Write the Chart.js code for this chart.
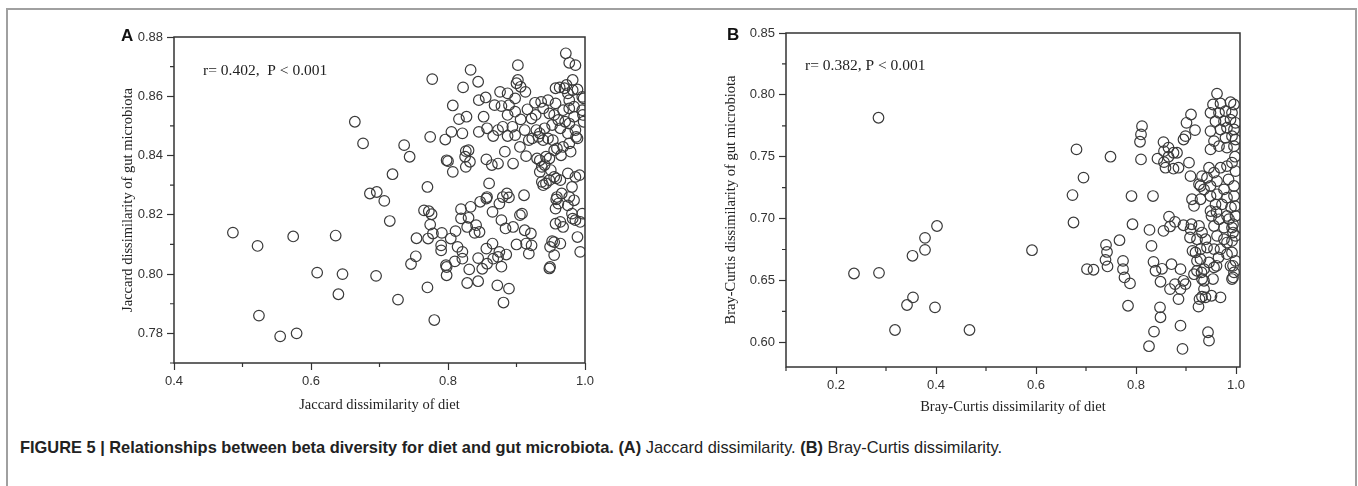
<!DOCTYPE html>
<html><head><meta charset="utf-8">
<script src="https://cdn.jsdelivr.net/npm/chart.js@4.4.1/dist/chart.umd.min.js"></script>
<style>
html,body{margin:0;padding:0;background:#fff;}
body{width:1358px;height:486px;position:relative;overflow:hidden;}
#frame{position:absolute;left:6px;top:8px;width:1347px;height:520px;border:2px solid #a0a0a0;border-bottom:none;}
canvas{position:absolute;top:0;}
#cA{left:0;} #cB{left:680px;}
#caption{position:absolute;left:20px;top:438px;font-family:"Liberation Sans",Arial,sans-serif;font-size:16.4px;color:#222;white-space:nowrap;}
</style></head>
<body>
<div id="frame"></div>
<canvas id="cA" width="660" height="430"></canvas>
<canvas id="cB" width="678" height="430"></canvas>
<div id="caption"><b>FIGURE 5 | Relationships between beta diversity for diet and gut microbiota. (A)</b> Jaccard dissimilarity. <b>(B)</b> Bray-Curtis dissimilarity.</div>
<script>
const jaccardDiet = [
0.486,0.522,0.524,0.555,0.574,0.579,0.609,0.636,0.640,0.646,
0.664,0.676,0.686,0.696,0.695,0.707,0.715,0.719,0.727,0.736,
0.744,0.746,0.753,0.754,0.765,0.772,0.776,0.770,0.774,0.777,
0.774,0.770,0.780,0.771,0.778,0.791,0.790,0.790,0.797,0.798,
0.798,0.796,0.798,0.800,0.804,0.805,0.807,0.807,0.811,0.810,
0.814,0.816,0.819,0.819,0.821,0.821,0.821,0.822,0.826,0.825,
0.826,0.827,0.828,0.828,0.830,0.830,0.831,0.832,0.833,0.833,
0.839,0.841,0.844,0.844,0.844,0.845,0.845,0.846,0.847,0.850,
0.852,0.855,0.856,0.856,0.856,0.857,0.857,0.860,0.857,0.864,
0.865,0.865,0.866,0.866,0.868,0.873,0.872,0.873,0.873,0.875,
0.875,0.876,0.878,0.878,0.878,0.880,0.880,0.881,0.883,0.884,
0.885,0.886,0.887,0.887,0.887,0.889,0.889,0.889,0.894,0.895,
0.895,0.898,0.898,0.898,0.900,0.900,0.902,0.902,0.905,0.905,
0.906,0.906,0.908,0.911,0.912,0.912,0.913,0.914,0.914,0.916,
0.918,0.918,0.921,0.922,0.922,0.923,0.927,0.928,0.929,0.930,
0.932,0.934,0.934,0.934,0.936,0.937,0.937,0.939,0.939,0.939,
0.941,0.941,0.943,0.943,0.946,0.946,0.948,0.948,0.948,0.948,
0.949,0.949,0.950,0.952,0.952,0.953,0.955,0.955,0.955,0.955,
0.957,0.957,0.957,0.957,0.958,0.958,0.959,0.959,0.961,0.961,
0.963,0.964,0.964,0.964,0.964,0.965,0.966,0.968,0.968,0.968,
0.970,0.971,0.972,0.973,0.975,0.975,0.975,0.975,0.977,0.977,
0.977,0.977,0.977,0.977,0.979,0.981,0.981,0.982,0.982,0.982,
0.984,0.984,0.984,0.986,0.986,0.986,0.986,0.987,0.989,0.989,
0.989,0.992,0.993,0.993,0.996,0.996,0.996,0.997,0.998,0.998,0.955];
const jaccardGut = [
0.814,0.8095,0.786,0.779,0.8127,0.780,0.8005,0.813,0.7932,0.800,
0.8514,0.8441,0.8272,0.8277,0.7994,0.8247,0.8179,0.8337,0.7914,0.8435,
0.8396,0.8034,0.806,0.8121,0.8215,0.8212,0.8202,0.8294,0.8463,0.8658,
0.8167,0.7955,0.7845,0.812,0.8137,0.8139,0.8097,0.808,0.803,0.7996,
0.8024,0.8454,0.8384,0.8381,0.812,0.848,0.8345,0.8569,0.8145,0.8043,
0.8092,0.8523,0.8219,0.8188,0.8075,0.8052,0.8475,0.863,0.8415,0.8396,
0.8362,0.8531,0.8159,0.797,0.8418,0.819,0.8016,0.8379,0.8689,0.8227,
0.8139,0.8165,0.8649,0.8054,0.7976,0.8587,0.848,0.8142,0.8244,0.8018,
0.8531,0.8596,0.8255,0.8387,0.8086,0.8035,0.8492,0.8306,0.826,0.8368,
0.8103,0.821,0.8466,0.8052,0.857,0.8373,0.7962,0.8058,0.8486,0.8075,
0.8238,0.8615,0.8182,0.8025,0.8567,0.8497,0.826,0.7904,0.8413,0.8154,
0.8066,0.8272,0.861,0.8537,0.8466,0.8259,0.857,0.7951,0.8497,0.8159,
0.8373,0.8593,0.8548,0.8469,0.810,0.8644,0.8705,0.8655,0.8199,0.8429,
0.8632,0.8522,0.8204,0.8266,0.8148,0.8486,0.8615,0.8103,0.8398,0.8556,
0.8069,0.8452,0.8137,0.8097,0.8525,0.8458,0.8578,0.8537,0.8486,0.839,
0.8463,0.8384,0.8475,0.8345,0.8581,0.8362,0.8311,0.8559,0.830,0.8452,
0.8492,0.8368,0.8396,0.8306,0.8587,0.8458,0.8542,0.839,0.8317,0.8019,
0.8092,0.8024,0.8351,0.8503,0.8111,0.8452,0.8537,0.8418,0.8328,0.8064,
0.8576,0.8627,0.8221,0.817,0.8323,0.8252,0.8424,0.826,0.852,0.8238,
0.863,0.8492,0.8317,0.8176,0.8103,0.8401,0.8272,0.8159,0.8553,0.8429,
0.8627,0.8514,0.8745,0.8638,0.861,0.8475,0.834,0.8232,0.8713,0.8587,
0.8559,0.8508,0.8441,0.826,0.8413,0.8294,0.8204,0.8655,0.8621,0.8187,
0.8531,0.8565,0.8249,0.8705,0.8486,0.8328,0.8182,0.8463,0.8623,0.8458,
0.8125,0.8334,0.8176,0.8075,0.8553,0.8598,0.8204,0.8537,0.8514,0.8593,0.8108];

const brayDiet = [
0.236,0.285,0.286,0.318,0.342,0.353,0.354,0.378,0.378,0.398,
0.402,0.467,0.592,0.673,0.675,0.681,0.695,0.702,0.715,0.740,
0.742,0.739,0.743,0.749,0.767,0.774,0.774,0.777,0.788,0.784,
0.791,0.793,0.808,0.810,0.812,0.810,0.826,0.827,0.831,0.834,
0.835,0.839,0.836,0.843,0.849,0.848,0.849,0.852,0.855,0.855,
0.856,0.856,0.859,0.865,0.865,0.868,0.868,0.866,0.871,0.875,
0.875,0.878,0.878,0.882,0.885,0.885,0.889,0.889,0.889,0.893,
0.895,0.895,0.895,0.899,0.899,0.901,0.906,0.908,0.909,0.909,
0.910,0.911,0.912,0.913,0.916,0.916,0.918,0.919,0.922,0.922,
0.922,0.925,0.926,0.926,0.927,0.929,0.929,0.929,0.929,0.931,
0.932,0.932,0.932,0.932,0.936,0.936,0.936,0.936,0.939,0.939,
0.942,0.942,0.944,0.946,0.946,0.946,0.949,0.949,0.949,0.949,
0.949,0.949,0.951,0.951,0.954,0.954,0.956,0.956,0.956,0.956,
0.956,0.959,0.959,0.961,0.961,0.962,0.962,0.962,0.962,0.965,
0.966,0.966,0.966,0.969,0.969,0.969,0.969,0.969,0.972,0.976,
0.976,0.976,0.976,0.979,0.979,0.982,0.982,0.982,0.982,0.982,
0.982,0.982,0.985,0.986,0.989,0.989,0.989,0.990,0.992,0.992,
0.992,0.992,0.992,0.992,0.992,0.994,0.994,0.994,0.994,0.996,
0.996,0.996,0.996,0.996,0.996,0.999,0.999,0.999,0.999,0.999,
0.999,0.998,0.998];
const brayGut = [
0.6556,0.7815,0.6561,0.6099,0.6301,0.6699,0.6363,0.6844,0.6747,0.6282,
0.694,0.6099,0.6744,0.719,0.6968,0.7559,0.7331,0.6591,0.6586,0.6787,
0.673,0.6666,0.6613,0.75,0.6825,0.6658,0.6591,0.6524,0.6476,0.6295,
0.7182,0.6954,0.7621,0.768,0.7747,0.7478,0.5968,0.6908,0.6779,0.7182,
0.665,0.6578,0.6086,0.7484,0.6489,0.6282,0.6202,0.6594,0.69,0.7618,
0.7545,0.7456,0.7411,0.7573,0.75,0.6936,0.643,0.7016,0.6631,0.7532,
0.7403,0.6973,0.647,0.7532,0.7411,0.6349,0.6591,0.643,0.6134,0.5946,
0.6946,0.7639,0.6497,0.647,0.7666,0.7774,0.7452,0.6847,0.6914,0.7343,
0.7841,0.6954,0.7156,0.6739,0.7102,0.655,0.7715,0.6726,0.6658,0.6833,
0.6578,0.6288,0.7277,0.694,0.6349,0.7263,0.6753,0.6672,0.7156,0.6565,
0.6887,0.7343,0.6511,0.6368,0.7236,0.6591,0.643,0.6497,0.6833,0.6363,
0.733,0.6766,0.6081,0.7411,0.6645,0.6013,0.7855,0.7707,0.7559,0.7263,
0.7182,0.7061,0.7021,0.6376,0.7922,0.6511,0.7626,0.7371,0.694,0.6753,
0.6605,0.7787,0.7115,0.7053,0.6618,0.801,0.7303,0.7196,0.686,0.6685,
0.7855,0.7585,0.6994,0.793,0.772,0.7411,0.6753,0.6363,0.7115,0.7787,
0.7236,0.6927,0.6833,0.7868,0.7653,0.7734,0.7573,0.7424,0.7169,0.7021,
0.6806,0.6712,0.7317,0.6995,0.794,0.78,0.6618,0.709,0.7855,0.7666,
0.7452,0.6927,0.6819,0.6726,0.6511,0.6618,0.6524,0.6887,0.6954,0.7922,
0.772,0.7585,0.7263,0.7182,0.6565,0.7774,0.7639,0.7384,0.7021,0.686,
0.6658,0.75,0.71];

const jaccardXTicks = [0.4, 0.6, 0.8, 1.0];
const jaccardXLabels = ['0.4', '0.6', '0.8', '1.0'];
const jaccardXMinor = [0.5, 0.7, 0.9];
const jaccardYTicks = [0.78, 0.80, 0.82, 0.84, 0.86, 0.88];
const jaccardYLabels = ['0.78', '0.80', '0.82', '0.84', '0.86', '0.88'];
const jaccardYMinor = [0.77, 0.79, 0.81, 0.83, 0.85, 0.87];
const brayXTicks = [0.2, 0.4, 0.6, 0.8, 1.0];
const brayXLabels = ['0.2', '0.4', '0.6', '0.8', '1.0'];
const brayXMinor = [0.1, 0.3, 0.5, 0.7, 0.9];
const brayYTicks = [0.60, 0.65, 0.70, 0.75, 0.80, 0.85];
const brayYLabels = ['0.60', '0.65', '0.70', '0.75', '0.80', '0.85'];
const brayYMinor = [0.625, 0.675, 0.725, 0.775, 0.825];

const SANS = '"Liberation Sans", Arial, sans-serif';
const SERIF = '"Liberation Serif", "Times New Roman", serif';
const INK = '#333';

const boxPlugin = {
  id: 'box',
  afterDatasetsDraw(chart, args, o) {
    const {ctx, chartArea: a} = chart;
    const x = chart.scales.x, y = chart.scales.y;
    ctx.save();
    ctx.strokeStyle = INK;
    ctx.lineWidth = 1.5;
    ctx.strokeRect(a.left, a.top, a.right - a.left, a.bottom - a.top);
    ctx.lineWidth = 1.2;
    ctx.beginPath();
    o.xMinor.forEach(v => { const p = x.getPixelForValue(v); ctx.moveTo(p, a.bottom); ctx.lineTo(p, a.bottom + 4); });
    o.yMinor.forEach(v => { const p = y.getPixelForValue(v); ctx.moveTo(a.left, p); ctx.lineTo(a.left - 4, p); });
    ctx.stroke();
    ctx.fillStyle = '#222';
    ctx.font = '15.5px ' + SERIF;
    ctx.textAlign = 'left';
    ctx.textBaseline = 'middle';
    ctx.fillText(o.note, a.left + o.noteDx, a.top + o.noteDy);
    ctx.font = 'bold 17px ' + SANS;
    ctx.textBaseline = 'alphabetic';
    ctx.fillStyle = '#111';
    ctx.fillText(o.letter, o.letterX, o.letterY);
    ctx.restore();
  }
};

function makeChart(id, xs, ys, c) {
  const pts = xs.map((v, i) => ({x: v, y: ys[i]}));
  return new Chart(document.getElementById(id), {
    type: 'scatter',
    data: {datasets: [{data: pts, pointRadius: 5.3, pointHoverRadius: 5.3, borderWidth: 1.2,
      borderColor: '#3a3a3a', backgroundColor: 'rgba(255,255,255,0)', clip: 0}]},
    options: {
      responsive: false, animation: false, events: [],
      layout: {padding: c.padding},
      plugins: {legend: {display: false}, tooltip: {enabled: false},
        box: {xMinor: c.xMinor, yMinor: c.yMinor, note: c.note, noteDx: c.noteDx, noteDy: c.noteDy,
              letter: c.letter, letterX: c.letterX, letterY: c.letterY}},
      scales: {
        x: {type: 'linear', min: c.xMin, max: c.xMax,
          afterBuildTicks: s => { s.ticks = c.xTicks.map(v => ({value: v})); },
          afterFit: s => { s.height = c.xH; },
          ticks: {callback: (v, i) => c.xLabels[i], font: {family: SANS, size: 13}, color: INK, padding: 4, maxRotation: 0, autoSkip: false},
          grid: {display: true, drawOnChartArea: false, drawTicks: true, tickLength: 7, tickWidth: 1.2, tickColor: INK},
          border: {display: false},
          title: {display: true, text: c.xTitle, font: {family: SERIF, size: 14.5}, color: '#222', padding: {top: 0, bottom: 0}}
        },
        y: {type: 'linear', min: c.yMin, max: c.yMax,
          afterBuildTicks: s => { s.ticks = c.yTicks.map(v => ({value: v})); },
          afterFit: s => { s.width = c.yW; },
          ticks: {callback: (v, i) => c.yLabels[i], font: {family: SANS, size: 13}, color: INK, padding: 4, autoSkip: false},
          grid: {display: true, drawOnChartArea: false, drawTicks: true, tickLength: 7, tickWidth: 1.2, tickColor: INK},
          border: {display: false},
          title: {display: true, text: c.yTitle, font: {family: SERIF, size: 14.5}, color: '#222', padding: {top: c.yTitlePad, bottom: 0}}
        }
      }
    },
    plugins: [boxPlugin]
  });
}

makeChart('cA', jaccardDiet, jaccardGut, {
  padding: {left: 110, top: 37, right: 75, bottom: 16}, yW: 64, xH: 51, yTitlePad: 9,
  xMin: 0.4, xMax: 1.0, yMin: 0.77, yMax: 0.88,
  xTicks: jaccardXTicks, xLabels: jaccardXLabels, xMinor: jaccardXMinor,
  yTicks: jaccardYTicks, yLabels: jaccardYLabels, yMinor: jaccardYMinor,
  xTitle: 'Jaccard dissimilarity of diet', yTitle: 'Jaccard dissimilarity of gut microbiota',
  note: 'r= 0.402,  P < 0.001', noteDx: 29, noteDy: 34,
  letter: 'A', letterX: 121, letterY: 41
});
makeChart('cB', brayDiet, brayGut, {
  padding: {left: 40, top: 33, right: 118, bottom: 14}, yW: 66, xH: 49, yTitlePad: 2,
  xMin: 0.1, xMax: 1.008, yMin: 0.58, yMax: 0.85,
  xTicks: brayXTicks, xLabels: brayXLabels, xMinor: brayXMinor,
  yTicks: brayYTicks, yLabels: brayYLabels, yMinor: brayYMinor,
  xTitle: 'Bray-Curtis dissimilarity of diet', yTitle: 'Bray-Curtis dissimilarity of gut microbiota',
  note: 'r= 0.382, P < 0.001', noteDx: 19, noteDy: 33,
  letter: 'B', letterX: 47, letterY: 40
});
</script>
</body></html>
